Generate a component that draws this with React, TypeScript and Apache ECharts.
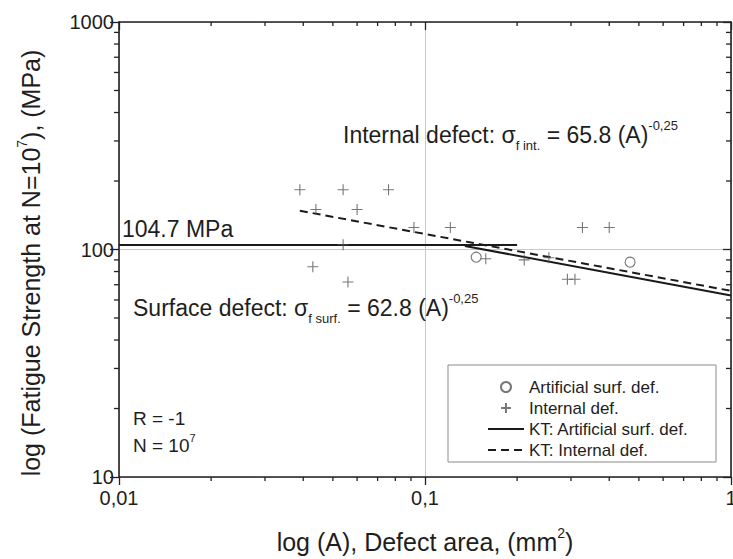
import React, { useEffect, useRef } from 'react';
import * as echarts from 'echarts';

const FONT = '"Liberation Sans", Arial, Helvetica, sans-serif';
const TXT = '#1e1e1e';

// Data
const internalX = [0.039, 0.054, 0.076, 0.044, 0.06, 0.092, 0.121, 0.054, 0.043, 0.056, 0.158, 0.211, 0.254, 0.292, 0.309, 0.327, 0.4];
const internalY = [183, 183, 183, 150, 150, 125, 125, 105, 84, 72, 91, 90, 92, 74, 74, 125, 125];
const artificialX = [0.147, 0.468];
const artificialY = [92.5, 88];
const ktSurfPlateauX = [0.01, 0.2];
const ktSurfPlateauY = [104.7, 104.7];
const ktSurfSlopeX = [0.135, 1];
const ktSurfSlopeY = [103.6, 62.8];
const ktIntX = [0.039, 1];
const ktIntY = [148, 65.8];

// Axis tick values
const xMinorTicks = [0.02, 0.03, 0.04, 0.05, 0.06, 0.07, 0.08, 0.09, 0.2, 0.3, 0.4, 0.5, 0.6, 0.7, 0.8, 0.9];
const yMinorTicks = [20, 30, 40, 50, 60, 70, 80, 90, 200, 300, 400, 500, 600, 700, 800, 900];

const zip = (xs: number[], ys: number[]) => xs.map((x, i) => [x, ys[i]]);

const tickSeries = (data: number[][], dx: number, dy: number) => ({
  type: 'custom',
  coordinateSystem: 'cartesian2d',
  xAxisIndex: 0,
  yAxisIndex: 0,
  silent: true,
  clip: false,
  z: 6,
  data,
  renderItem: (_p: any, api: any) => {
    const p = api.coord([api.value(0), api.value(1)]);
    return {
      type: 'line',
      shape: { x1: p[0], y1: p[1], x2: p[0] + dx, y2: p[1] + dy },
      style: { stroke: '#222', lineWidth: 1.3 },
    };
  },
});

const fmtX = (v: number) => String(Number(v.toPrecision(6))).replace('.', ',');
const fmtY = (v: number) => String(Math.round(v));

const axisLine = { show: true, lineStyle: { color: '#222', width: 1.6 } };

export default function App() {
  const ref = useRef<HTMLDivElement>(null);
  useEffect(() => {
    if (!ref.current) return;
    const chart = echarts.init(ref.current, undefined, { renderer: 'svg' });
    const mainRich = {
      b: { fontSize: 23, fontFamily: FONT, fill: TXT, lineHeight: 33 },
      s: { fontSize: 13, fontFamily: FONT, fill: TXT, lineHeight: 13, verticalAlign: 'bottom' },
      p: { fontSize: 13, fontFamily: FONT, fill: TXT, lineHeight: 13, verticalAlign: 'top' },
    };
    const hideSym = { itemStyle: { opacity: 0 } };
    chart.setOption({
      animation: false,
      backgroundColor: '#ffffff',
      grid: { left: 119, right: 2, top: 22, bottom: 82, containLabel: false, outerBoundsMode: 'none' },
      xAxis: [
        {
          type: 'log', logBase: 10, min: 0.01, max: 1, position: 'bottom',
          axisLine, axisTick: { show: true, inside: false, length: 8, lineStyle: { color: '#222', width: 1.3 } },
          minorTick: { show: false },
          axisLabel: { formatter: fmtX, fontSize: 20, color: TXT, fontFamily: FONT, margin: 11 },
          splitLine: { show: true, lineStyle: { color: '#c8c8c8', width: 1 } },
        },
        {
          type: 'log', logBase: 10, min: 0.01, max: 1, position: 'top',
          axisLine, axisTick: { show: true, inside: true, length: 8, lineStyle: { color: '#222', width: 1.3 } },
          axisLabel: { show: false }, splitLine: { show: false },
        },
      ],
      yAxis: [
        {
          type: 'log', logBase: 10, min: 10, max: 1000, position: 'left',
          axisLine, axisTick: { show: true, inside: false, length: 9, lineStyle: { color: '#222', width: 1.3 } },
          axisLabel: { formatter: fmtY, fontSize: 20, color: TXT, fontFamily: FONT, margin: 5 },
          splitLine: { show: true, lineStyle: { color: '#c8c8c8', width: 1 } },
        },
        {
          type: 'log', logBase: 10, min: 10, max: 1000, position: 'right',
          axisLine, axisTick: { show: true, inside: true, length: 8, lineStyle: { color: '#222', width: 1.3 } },
          axisLabel: { show: false }, splitLine: { show: false },
        },
      ],
      legend: {
        left: 487, top: 377, orient: 'vertical', itemWidth: 36, itemHeight: 10, itemGap: 1,
        padding: 0,
        textStyle: { fontSize: 17, color: TXT, fontFamily: FONT, lineHeight: 20 },
        data: [
          { name: 'Artificial surf. def.' },
          { name: 'Internal def.' },
          { name: 'KT: Artificial surf. def.', ...hideSym },
          { name: 'KT: Internal def.', ...hideSym },
        ],
        selectedMode: false,
      },
      graphic: [
        { type: 'rect', z: 1, shape: { x: 448, y: 365, width: 268, height: 97 }, style: { fill: '#fff', stroke: '#8a8a8a', lineWidth: 1 } },
        { type: 'text', z: 10, x: 122, y: 229, style: { text: '104.7 MPa', fontSize: 23, fontFamily: FONT, fill: TXT, align: 'left', verticalAlign: 'middle' } },
        {
          type: 'text', z: 10, x: 343, y: 135,
          style: { text: '{b|Internal defect: σ}{s|f int.}{b| = 65.8 (A)}{p|-0,25}', rich: mainRich, align: 'left', verticalAlign: 'middle' },
        },
        {
          type: 'text', z: 10, x: 133, y: 308,
          style: { text: '{b|Surface defect: σ}{s|f surf.}{b| = 62.8 (A)}{p|-0,25}', rich: mainRich, align: 'left', verticalAlign: 'middle' },
        },
        { type: 'text', z: 10, x: 133, y: 418, style: { text: 'R = -1', fontSize: 19, fontFamily: FONT, fill: TXT, align: 'left', verticalAlign: 'middle' } },
        {
          type: 'text', z: 10, x: 133, y: 445,
          style: {
            text: '{b|N = 10}{p|7}', align: 'left', verticalAlign: 'middle',
            rich: {
              b: { fontSize: 19, fontFamily: FONT, fill: TXT, lineHeight: 25 },
              p: { fontSize: 11, fontFamily: FONT, fill: TXT, lineHeight: 11, verticalAlign: 'top' },
            },
          },
        },
        {
          type: 'text', z: 10, x: 425, y: 542,
          style: {
            text: '{b|log (A), Defect area, (mm}{p|2}{b|)}', align: 'center', verticalAlign: 'middle',
            rich: {
              b: { fontSize: 25, fontFamily: FONT, fill: TXT, lineHeight: 32 },
              p: { fontSize: 14, fontFamily: FONT, fill: TXT, lineHeight: 14, verticalAlign: 'top' },
            },
          },
        },
        {
          type: 'text', z: 10, x: 31, y: 263, rotation: Math.PI / 2,
          style: {
            text: '{b|log (Fatigue Strength at N=10}{p|7}{b|), (MPa)}', align: 'center', verticalAlign: 'middle',
            rich: {
              b: { fontSize: 25, fontFamily: FONT, fill: TXT, lineHeight: 32 },
              p: { fontSize: 14, fontFamily: FONT, fill: TXT, lineHeight: 14, verticalAlign: 'top' },
            },
          },
        },
      ],
      series: [
        {
          name: 'Artificial surf. def.', type: 'scatter', symbol: 'circle', symbolSize: 10, z: 4,
          itemStyle: { color: 'rgba(255,255,255,0)', borderColor: '#555', borderWidth: 1.1 },
          data: zip(artificialX, artificialY),
        },
        {
          name: 'Internal def.', type: 'scatter', symbol: 'path://M5,0L5,10M0,5L10,5', symbolSize: 11, z: 4,
          itemStyle: { color: 'rgba(255,255,255,0)', borderColor: '#555', borderWidth: 1.1 },
          data: zip(internalX, internalY),
        },
        {
          name: 'KT: Artificial surf. def.', type: 'line', symbol: 'none', z: 3,
          itemStyle: { color: '#1a1a1a' },
          lineStyle: { color: '#1a1a1a', width: 2 },
          data: zip(ktSurfPlateauX, ktSurfPlateauY),
        },
        {
          name: 'KT: Artificial surf. def.', type: 'line', symbol: 'none', z: 3,
          itemStyle: { color: '#1a1a1a' },
          lineStyle: { color: '#1a1a1a', width: 2 },
          data: zip(ktSurfSlopeX, ktSurfSlopeY),
        },
        {
          name: 'KT: Internal def.', type: 'line', symbol: 'none', z: 3,
          itemStyle: { color: '#1a1a1a' },
          lineStyle: { color: '#1a1a1a', width: 2, type: [8, 5] },
          data: zip(ktIntX, ktIntY),
        },
        tickSeries(xMinorTicks.map((v) => [v, 10]), 0, 4),
        tickSeries(xMinorTicks.map((v) => [v, 1000]), 0, 4),
        tickSeries(yMinorTicks.map((v) => [0.01, v]), -5, 0),
        tickSeries(yMinorTicks.map((v) => [1, v]), -5, 0),
      ],
    });
    return () => chart.dispose();
  }, []);
  return <div ref={ref} style={{ position: 'fixed', left: 0, top: 0, width: 733, height: 559 }} />;
}
